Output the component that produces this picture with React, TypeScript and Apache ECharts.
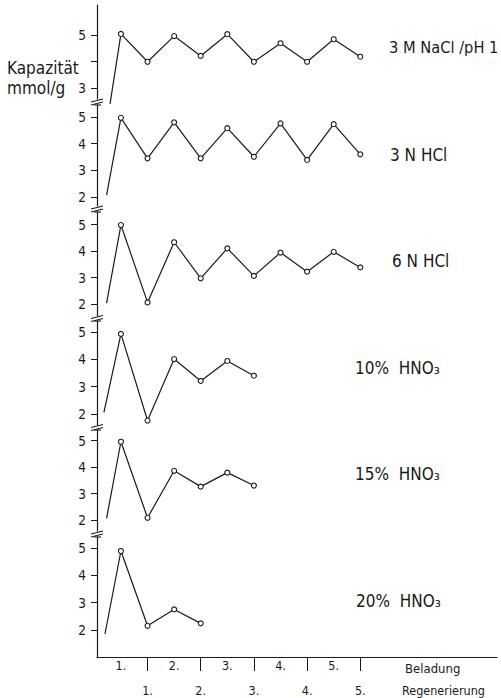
import React, { useEffect, useRef } from "react";
import * as echarts from "echarts";

// ---- data ----
const cycles = [1, 2, 3, 4, 5, 6, 7, 8, 9, 10];
const panelLabels = ["3 M NaCl /pH 1", "3 N HCl", "6 N HCl", "10%  HNO₃", "15%  HNO₃", "20%  HNO₃"];
const startX = [0.59, 0.46, 0.46, 0.36, 0.46, 0.4];
const startY = [2.4, 2.07, 2.03, 2.06, 2.06, 1.85];
const nacl3M = [5.04, 3.99, 4.96, 4.21, 5.03, 3.99, 4.69, 3.99, 4.84, 4.18];
const hcl3N = [4.97, 3.45, 4.8, 3.45, 4.58, 3.51, 4.76, 3.39, 4.73, 3.6];
const hcl6N = [4.98, 2.06, 4.33, 2.97, 4.1, 3.06, 3.94, 3.22, 3.97, 3.38];
const hno10 = [4.93, 1.76, 4.01, 3.21, 3.94, 3.4];
const hno15 = [4.96, 2.08, 3.86, 3.26, 3.79, 3.3];
const hno20 = [4.89, 2.15, 2.75, 2.24];
const seriesValues = [nacl3M, hcl3N, hcl6N, hno10, hno15, hno20];
const yTicksFirst = [3, 4, 5];
const yLabelsFirst = [3, 5];
const yTicks = [2, 3, 4, 5];
const beladungTicks = [1, 3, 5, 7, 9];
const regenTicks = [2, 4, 6, 8, 10];

// ---- layout ----
const W = 501;
const H = 698;
const AXIS_X = 97;
const X_MIN = 0.1;
const X_MAX = 15.14;
// top px, bottom px, px of value 5, px per unit
const panelLayout = [
  [5, 99, 35, 26.5],
  [105, 206, 117, 26.67],
  [212, 316, 224.5, 26.5],
  [321, 425, 332, 27.33],
  [430, 531, 440.7, 26.4],
  [537, 657, 548, 27.3],
];
const breakY = [102, 209, 318.5, 427.5, 534];
const labelPos = [
  [389, 47],
  [390, 155],
  [392, 261],
  [355, 368],
  [355, 474],
  [356, 601],
];
const labelSize = [16.3, 17, 17, 17, 17, 17];

const INK = "#1a1a1a";
const FONT = "'DejaVu Sans Condensed', 'DejaVu Sans', sans-serif";

export default function App() {
  const ref = useRef<HTMLDivElement>(null);

  useEffect(() => {
    if (!ref.current) return;
    const chart = echarts.init(ref.current, undefined, { renderer: "svg" });

    const grids = panelLayout.map(([top, bottom]) => ({
      left: AXIS_X,
      right: W - 497,
      top,
      height: bottom - top,
    }));

    const xAxes: any[] = panelLayout.map((_, i) => {
      const last = i === panelLayout.length - 1;
      return {
        gridIndex: i,
        type: "value",
        min: X_MIN,
        max: X_MAX,
        show: last,
        splitLine: { show: false },
        axisLine: { show: last, onZero: false, lineStyle: { color: INK, width: 1.2 } },
        axisTick: {
          show: last,
          inside: false,
          length: 14,
          customValues: regenTicks,
          lineStyle: { color: INK, width: 1 },
        },
        axisLabel: {
          show: last,
          customValues: beladungTicks,
          formatter: (v: number) => `${(v + 1) / 2}.`,
          margin: 2,
          fontSize: 12.5,
          fontFamily: FONT,
          color: INK,
        },
      };
    });
    // Regenerierung labels row
    xAxes.push({
      gridIndex: panelLayout.length - 1,
      type: "value",
      position: "bottom",
      min: X_MIN,
      max: X_MAX,
      splitLine: { show: false },
      axisLine: { show: false },
      axisTick: { show: false },
      axisLabel: {
        customValues: regenTicks,
        formatter: (v: number) => `${v / 2}.`,
        margin: 27,
        fontSize: 12.5,
        fontFamily: FONT,
        color: INK,
      },
    });

    const yAxes = panelLayout.map(([top, bottom, y5, unit], i) => {
      const max = 5 + (y5 - top) / unit;
      const min = 5 - (bottom - y5) / unit;
      return {
        gridIndex: i,
        type: "value",
        min,
        max,
        splitLine: { show: false },
        axisLine: { show: true, onZero: false, lineStyle: { color: INK, width: 1.2 } },
        axisTick: {
          show: true,
          inside: false,
          length: 6,
          customValues: i === 0 ? yTicksFirst : yTicks,
          lineStyle: { color: INK, width: 1 },
        },
        axisLabel: {
          customValues: i === 0 ? yLabelsFirst : yTicks,
          margin: 11,
          fontSize: 13.5,
          fontFamily: FONT,
          color: INK,
        },
      };
    });

    const series = seriesValues.map((vals, i) => ({
      type: "line",
      xAxisIndex: i,
      yAxisIndex: i,
      clip: false,
      silent: true,
      symbol: "circle",
      symbolSize: 5,
      itemStyle: { color: "#fff", borderColor: INK, borderWidth: 1.1 },
      lineStyle: { color: INK, width: 1.2 },
      data: [
        { value: [startX[i], startY[i]], symbol: "none" },
        ...vals.map((v, k) => [cycles[k], v]),
      ],
    }));

    const graphics: any[] = [];
    breakY.forEach((b) => {
      graphics.push({
        type: "line",
        shape: { x1: 91, y1: b, x2: 103, y2: b - 3 },
        style: { stroke: INK, lineWidth: 1.1 },
      });
      graphics.push({
        type: "line",
        shape: { x1: 91, y1: b + 3, x2: 103, y2: b },
        style: { stroke: INK, lineWidth: 1.1 },
      });
    });
    panelLayout.slice(1).forEach(([top]) => {
      graphics.push({
        type: "line",
        shape: { x1: 94, y1: top, x2: 101, y2: top },
        style: { stroke: INK, lineWidth: 1.1 },
      });
    });
    panelLabels.forEach((t, i) => {
      graphics.push({
        type: "text",
        x: labelPos[i][0],
        y: labelPos[i][1],
        style: {
          text: t,
          fontSize: labelSize[i],
          fontFamily: FONT,
          fill: INK,
          verticalAlign: "middle",
        },
      });
    });
    graphics.push(
      {
        type: "text",
        x: 7,
        y: 68,
        style: { text: "Kapazität", fontSize: 17, fontFamily: FONT, fill: INK, verticalAlign: "middle" },
      },
      {
        type: "text",
        x: 7,
        y: 88,
        style: { text: "mmol/g", fontSize: 17, fontFamily: FONT, fill: INK, verticalAlign: "middle" },
      },
      {
        type: "text",
        x: 405,
        y: 668,
        style: { text: "Beladung", fontSize: 13, fontFamily: FONT, fill: INK, verticalAlign: "middle" },
      },
      {
        type: "text",
        x: 402,
        y: 690,
        style: { text: "Regenerierung", fontSize: 12.5, fontFamily: FONT, fill: INK, verticalAlign: "middle" },
      }
    );

    chart.setOption({
      animation: false,
      backgroundColor: "#fff",
      grid: grids,
      xAxis: xAxes,
      yAxis: yAxes,
      series,
      graphic: graphics,
    });

    return () => chart.dispose();
  }, []);

  return (
    <div
      ref={ref}
      style={{ position: "absolute", left: 0, top: 0, width: W, height: H }}
    />
  );
}
